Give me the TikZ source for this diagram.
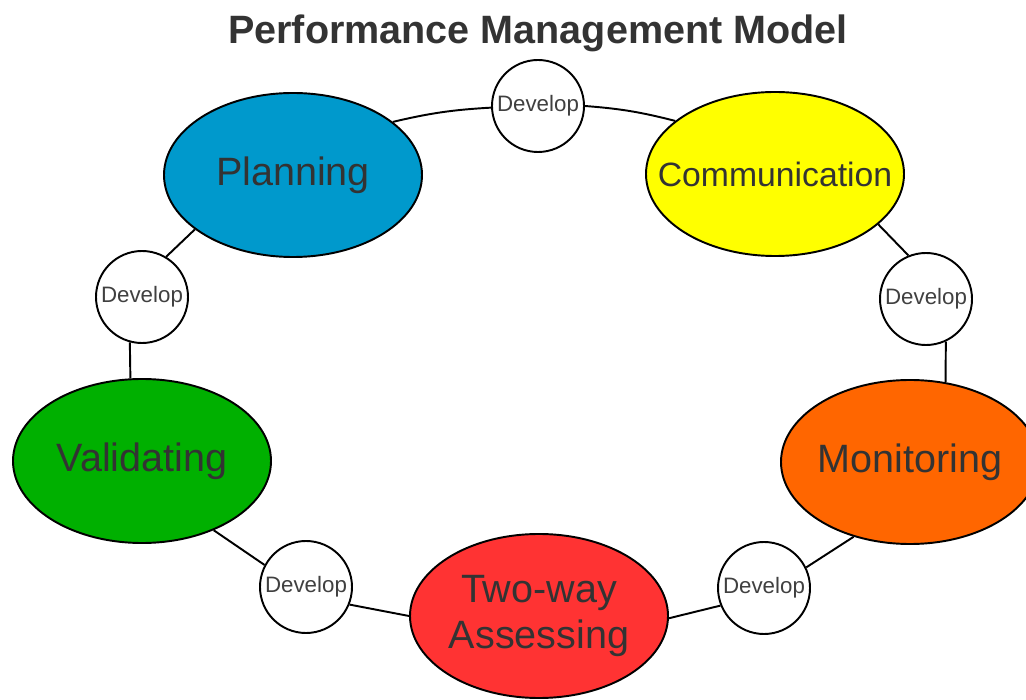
\documentclass[tikz,border=0pt]{standalone}
\usepackage{fontspec}
\setmainfont{Liberation Sans}
\usepackage{xcolor}
\usetikzlibrary{shapes,shapes.geometric,positioning,calc}

\definecolor{planblue}{HTML}{0099CC}
\definecolor{commyellow}{HTML}{FFFF00}
\definecolor{monorange}{HTML}{FF6600}
\definecolor{assessred}{HTML}{FF3333}
\definecolor{validgreen}{HTML}{00B000}
\definecolor{labelgray}{HTML}{333333}

\begin{document}
\begin{tikzpicture}[
    x=0.2mm, y=-0.2mm,
    stage/.style={ellipse, draw, line width=1.1pt, inner xsep=-7mm, inner ysep=-5mm, minimum width=51.6mm, minimum height=32.8mm, text=labelgray, align=center, font=\fontsize{22.5}{26.5}\selectfont},
    dev/.style={circle, draw, line width=1.1pt, fill=white, inner sep=0pt, minimum size=18.4mm, text=black!75, font=\fontsize{12.7}{14}\selectfont},
    link/.style={line width=1.1pt}
]
\useasboundingbox (0,0) rectangle (1026,700);

% Title
\node[font=\fontsize{22.5}{27}\selectfont\bfseries, text=labelgray] (title) at (538,33) {Performance Management Model};

% Stages
\node[stage, fill=planblue] (plan) at (293,175) {Planning};
\node[stage, fill=commyellow, font=\fontsize{19.2}{23}\selectfont] (comm) at (775,174) {Communication};
\node[stage, fill=monorange] (mon) at (910,462) {Monitoring};
\node[stage, fill=assessred] (assess) at (539,616) {Two-way\\Assessing};
\node[stage, fill=validgreen] (valid) at (142,461) {Validating};

% Develop circles
\node[dev] (devA) at (538,106) {Develop};
\node[dev] (devB) at (926,299) {Develop};
\node[dev] (devC) at (764,588) {Develop};
\node[dev] (devD) at (306,587) {Develop};
\node[dev] (devE) at (142,297) {Develop};

% Ring connectors
\draw[link] (plan.28) to[bend left=5] (devA.182);
\draw[link] (devA.0) to[bend left=5] (comm.152);
\draw[link] (comm.-26) -- (devB.112);
\draw[link] (devB.-65) -- (mon.66);
\draw[link] (mon.-127) -- (devC.26);
\draw[link] (devC.202) -- (assess.-1);
\draw[link] (assess.180) -- (devD.-22);
\draw[link] (devD.152) -- (valid.-44);
\draw[link] (valid.98) -- (devE.255);
\draw[link] (devE.59) -- (plan.-151);

\end{tikzpicture}
\end{document}
